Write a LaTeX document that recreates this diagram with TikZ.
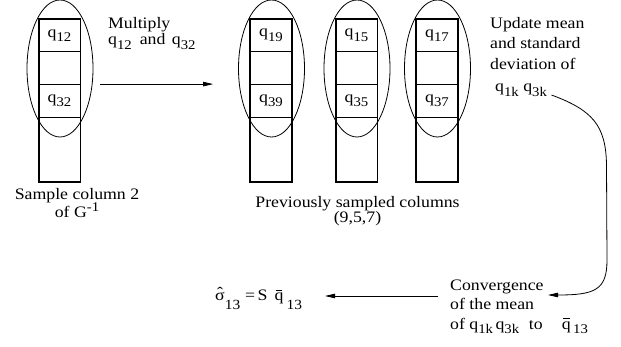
\documentclass[tikz,border=0pt]{standalone}
\usepackage{fontspec}
\setmainfont{Liberation Serif}[FakeStretch=1.11]
\usetikzlibrary{arrows.meta,shapes.geometric,calc}
\newcommand{\lsub}[1]{\raisebox{-0.3em}{\fontsize{13.3}{14}\selectfont #1}}
\newcommand{\lsup}[1]{\raisebox{0.4em}{\fontsize{13.3}{14}\selectfont #1}}
\newcommand{\dsub}[1]{\raisebox{-0.55em}{\fontsize{14}{15}\selectfont #1}}
\newcommand{\qbr}{\ooalign{q\cr\hfil\raisebox{0.66em}{\rule{0.42em}{0.05em}}\hfil\cr}}
\newcommand{\sgh}{\ooalign{σ\cr\hfil\raisebox{0.18em}{ˆ}\hfil\cr}}
\begin{document}
\begin{tikzpicture}[x=1pt,y=-1pt,
  font=\fontsize{16}{19.5}\selectfont,
  cell/.style={draw, line width=0.8pt, minimum width=41pt, minimum height=32.6pt, inner sep=0pt},
  frame/.style={line width=1.5pt},
  oval/.style={draw, ellipse, line width=0.8pt, minimum width=66pt, minimum height=137pt, inner sep=0pt},
  arr/.style={line width=0.8pt, -{Triangle[length=10pt,width=4.5pt]}},
  txt/.style={inner sep=0pt, anchor=base west, align=left}]
\fill[white] (0,0) rectangle (621,347);
\useasboundingbox (0,0) rectangle (621,347);
\foreach \n/\x/\ta/\tb in {1/59.5/12/32, 2/271/19/39, 3/356.5/15/35, 4/437/17/37} {
  \node[cell] (c\n-a) at (\x,35.6) {q\lsub{\ta}};
  \node[cell] (c\n-b) at (\x,68.2) {};
  \node[cell] (c\n-c) at (\x,100.8) {q\lsub{\tb}};
  \node[cell, minimum height=64.6pt] (c\n-d) at (\x,149.4) {};
  \draw[frame] (c\n-a.north west) rectangle (c\n-d.south east);
  \node[oval] (e\n) at (\x+0.5,68.5) {};
}
\coordinate (m0) at ($(e1.east |- c1-c.north)+(7,0)$);
\coordinate (m1) at ($(e2.west |- c1-c.north)+(-25,0)$);
\draw[arr] (m0) -- (m1);
\node[txt] (mul) at (108,45) {Multiply\\[-3.5pt]q\lsub{12}\hspace{0.5em}and\hspace{0.4em}q\lsub{32}};
\node[txt, anchor=base, align=center] (smp) at (77,218) {Sample column 2\\[-1.5pt]of G\lsup{-1}};
\node[txt, anchor=base, align=center] (prv) at (357.5,223) {Previously sampled columns\\[-4pt](9,5,7)};
\node[txt, font=\fontsize{16}{20.5}\selectfont] (upd) at (490,92) {Update mean\\and standard\\deviation of\\[2pt]\hspace{5pt}q\lsub{1k} q\lsub{3k}};
\node[txt] (cnv) at (450,329) {Convergence\\of the mean\\of q\lsub{1k}\hspace{2.5pt}q\lsub{3k}\hspace{0.6em}to\hspace{1.2em}\qbr\hspace{0.15em}\lsub{13}};
\node[txt] (frm) at (215,301) {\sgh\dsub{13}\hspace{0.3em}=\hspace{0.15em}S\hspace{0.45em}\qbr\hspace{0.2em}\dsub{13}};
\coordinate (k0) at (551.5,95);
\coordinate (k1) at (548,295);
\draw[arr] (k0) .. controls (592,110) and (606,125) .. (606.5,165) -- (607,260) .. controls (607,290) and (595,295) .. (k1);
\coordinate (b0) at (438,296);
\coordinate (b1) at (325,296);
\draw[arr] (b0) -- (b1);
\end{tikzpicture}
\end{document}
